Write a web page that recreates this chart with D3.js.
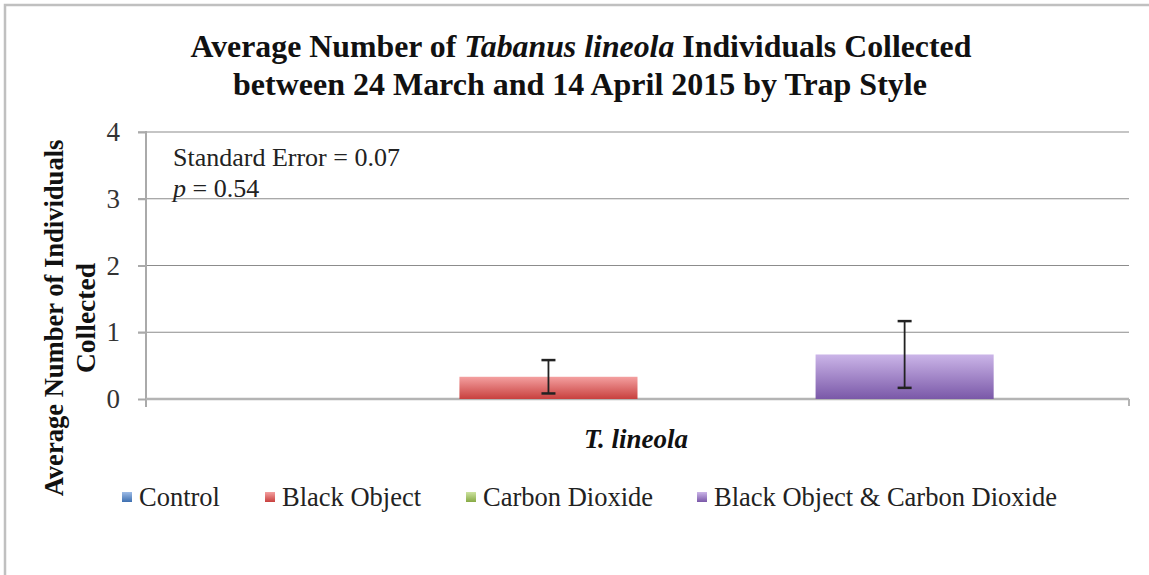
<!DOCTYPE html>
<html lang="en">
<head>
<meta charset="utf-8">
<script src="https://d3js.org/d3.v7.min.js"></script>
<style>
  body { margin: 0; background: #fff; }
  svg { display: block; font-family: "Liberation Serif", "Times New Roman", serif; }
</style>
</head>
<body>
<div id="chart"></div>
<script>
  // chart data
  const categories = ["T. lineola"];
  const seriesNames = ["Control", "Black Object", "Carbon Dioxide", "Black Object & Carbon Dioxide"];
  const means = [0, 0.333, 0, 0.667];
  const stdErrors = [0, 0.25, 0, 0.5];
  const yTicks = [0, 1, 2, 3, 4];
  const colorsTop = ["#9dbbe6", "#f4a0a0", "#cde3a0", "#cbb5e8"];
  const colorsBottom = ["#3d6fb0", "#c8403e", "#87aa45", "#7a58a8"];

  const W = 1149, H = 575;
  const margin = {top: 132, right: 20, bottom: 176, left: 146};

  const svg = d3.select("#chart").append("svg")
    .attr("width", W)
    .attr("height", H);

  // outer frame (left and top edge only show in the picture)
  svg.append("path")
    .attr("d", "M5," + H + "V5H" + W)
    .attr("fill", "none")
    .attr("stroke", "#c0c0c0")
    .attr("stroke-width", 2.5);

  const defs = svg.append("defs");
  seriesNames.forEach(function (s, i) {
    const g = defs.append("linearGradient")
      .attr("id", "grad" + i)
      .attr("x1", 0).attr("y1", 0).attr("x2", 0).attr("y2", 1);
    g.append("stop").attr("offset", "0%").attr("stop-color", colorsTop[i]);
    g.append("stop").attr("offset", "100%").attr("stop-color", colorsBottom[i]);
  });

  const x0 = d3.scaleBand()
    .domain(categories)
    .range([margin.left, 1129])
    .paddingInner(0)
    .paddingOuter(0.19);

  const x1 = d3.scaleBand()
    .domain(seriesNames)
    .range([0, x0.bandwidth()])
    .padding(0);

  const y = d3.scaleLinear()
    .domain([0, 4])
    .range([399, 132]);

  // gridlines
  svg.append("g")
    .selectAll("line")
    .data(yTicks.filter(function (d) { return d > 0; }))
    .join("line")
    .attr("x1", 138).attr("x2", 1129)
    .attr("y1", function (d) { return y(d); })
    .attr("y2", function (d) { return y(d); })
    .attr("stroke", "#8c8c8c")
    .attr("stroke-width", 1.2);

  // y axis
  const yAxis = svg.append("g")
    .attr("transform", "translate(" + margin.left + ",0)")
    .call(d3.axisLeft(y).tickValues(yTicks).tickSize(8).tickPadding(18).tickFormat(d3.format("d")));
  yAxis.select(".domain").remove();
  yAxis.selectAll(".tick line").attr("stroke", "#aaaaaa").attr("stroke-width", 2);
  yAxis.selectAll(".tick text")
    .attr("font-family", "Liberation Serif, serif")
    .attr("font-size", 27)
    .attr("fill", "#333");
  svg.append("line")
    .attr("x1", margin.left).attr("x2", margin.left)
    .attr("y1", y(4) - 1).attr("y2", y(0) + 8)
    .attr("stroke", "#aaaaaa").attr("stroke-width", 2);

  // x axis baseline
  svg.append("line")
    .attr("x1", margin.left).attr("x2", 1129)
    .attr("y1", y(0)).attr("y2", y(0))
    .attr("stroke", "#b4b4b4").attr("stroke-width", 2.5);
  svg.append("line")
    .attr("x1", 1129).attr("x2", 1129)
    .attr("y1", y(0)).attr("y2", y(0) + 7)
    .attr("stroke", "#b4b4b4").attr("stroke-width", 2);

  // bars
  const rows = seriesNames.map(function (s, i) {
    return {cat: categories[0], name: s, value: means[i], err: stdErrors[i], i: i};
  });

  svg.append("g")
    .selectAll("rect")
    .data(rows.filter(function (d) { return d.value > 0; }))
    .join("rect")
    .attr("x", function (d) { return x0(d.cat) + x1(d.name); })
    .attr("width", x1.bandwidth())
    .attr("y", function (d) { return y(d.value); })
    .attr("height", function (d) { return y(0) - y(d.value); })
    .attr("fill", function (d) { return "url(#grad" + d.i + ")"; });

  // error bars
  const eb = svg.append("g")
    .selectAll("g")
    .data(rows.filter(function (d) { return d.err > 0; }))
    .join("g")
    .attr("stroke", "#222")
    .attr("stroke-width", 1.8);
  const cx = function (d) { return x0(d.cat) + x1(d.name) + x1.bandwidth() / 2; };
  eb.append("line")
    .attr("x1", cx).attr("x2", cx)
    .attr("y1", function (d) { return y(d.value + d.err); })
    .attr("y2", function (d) { return y(d.value - d.err); });
  eb.append("line")
    .attr("x1", function (d) { return cx(d) - 7; }).attr("x2", function (d) { return cx(d) + 7; })
    .attr("y1", function (d) { return y(d.value + d.err); })
    .attr("y2", function (d) { return y(d.value + d.err); })
    .attr("stroke-width", 2.5);
  eb.append("line")
    .attr("x1", function (d) { return cx(d) - 7; }).attr("x2", function (d) { return cx(d) + 7; })
    .attr("y1", function (d) { return y(d.value - d.err); })
    .attr("y2", function (d) { return y(d.value - d.err); })
    .attr("stroke-width", 2.5);

  // squeeze a text element horizontally so it fills a given width
  function fitWidth(sel, width, cxPos) {
    const w = sel.node().getComputedTextLength();
    const k = width / w;
    sel.attr("transform", "translate(" + cxPos + ",0) scale(" + k + ",1) translate(" + (-cxPos) + ",0)");
  }

  // title
  const t1 = svg.append("text")
    .attr("x", 581).attr("y", 57)
    .attr("text-anchor", "middle")
    .attr("font-weight", "bold").attr("font-size", 32).attr("fill", "#111");
  t1.append("tspan").text("Average Number of ");
  t1.append("tspan").attr("font-style", "italic").text("Tabanus lineola");
  t1.append("tspan").text(" Individuals Collected");
  fitWidth(t1, 781, 581);

  const t2 = svg.append("text")
    .attr("x", 580).attr("y", 95)
    .attr("text-anchor", "middle")
    .attr("font-weight", "bold").attr("font-size", 32).attr("fill", "#111")
    .text("between 24 March and 14 April 2015 by Trap Style");
  fitWidth(t2, 694, 580);

  // annotation
  svg.append("text")
    .attr("x", 173).attr("y", 166)
    .attr("font-size", 26).attr("fill", "#222")
    .text("Standard Error = 0.07");
  const pt = svg.append("text")
    .attr("x", 173).attr("y", 197)
    .attr("font-size", 26).attr("fill", "#222");
  pt.append("tspan").attr("font-style", "italic").text("p");
  pt.append("tspan").text(" = 0.54");

  // y axis title
  const yt = svg.append("g").attr("transform", "translate(0,318) rotate(-90)");
  const yt1 = yt.append("text")
    .attr("x", 0).attr("y", 63)
    .attr("text-anchor", "middle")
    .attr("font-weight", "bold").attr("font-size", 27).attr("fill", "#111")
    .text("Average Number of Individuals");
  fitWidth(yt1, 357, 0);
  const yt2 = yt.append("text")
    .attr("x", 0).attr("y", 95)
    .attr("text-anchor", "middle")
    .attr("font-weight", "bold").attr("font-size", 27).attr("fill", "#111")
    .text("Collected");
  fitWidth(yt2, 110, 0);

  // x axis label
  svg.append("text")
    .attr("x", 636).attr("y", 448)
    .attr("text-anchor", "middle")
    .attr("font-weight", "bold").attr("font-style", "italic")
    .attr("font-size", 27).attr("fill", "#111")
    .text(categories[0]);

  // legend
  const legendX = [122, 265, 466, 697];
  const legend = svg.append("g")
    .selectAll("g")
    .data(seriesNames)
    .join("g")
    .attr("transform", function (d, i) { return "translate(" + legendX[i] + ",497)"; });
  legend.append("rect")
    .attr("x", 0).attr("y", -5).attr("width", 10).attr("height", 10)
    .attr("fill", function (d, i) { return "url(#grad" + i + ")"; });
  legend.append("text")
    .attr("x", 17).attr("y", 9)
    .attr("font-size", 26.5).attr("fill", "#222")
    .text(function (d) { return d; });
</script>
</body>
</html>
